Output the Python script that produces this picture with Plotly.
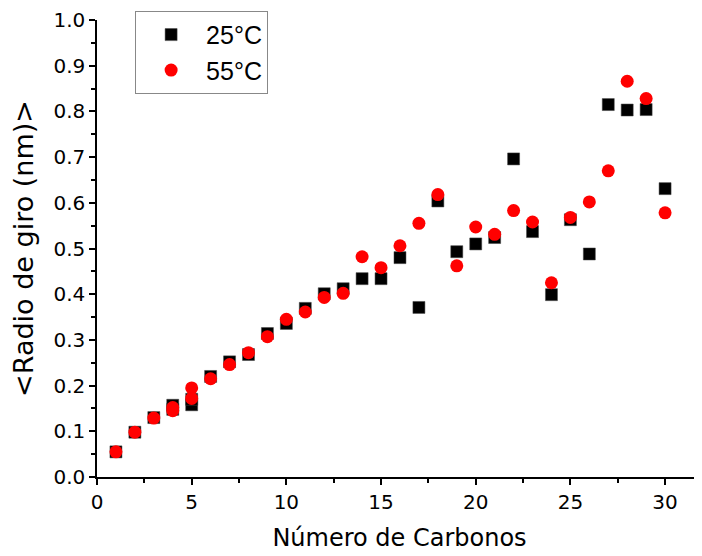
import plotly.graph_objects as go

carbons_25 = [1, 2, 3, 4, 4, 5, 5, 6, 7, 8, 9, 10, 11, 12, 13, 14, 15, 16, 17, 18, 19, 20, 21, 22, 23, 24, 25, 26, 27, 28, 29, 30]
radius_25 = [0.055, 0.098, 0.130, 0.157, 0.148, 0.158, 0.170, 0.220, 0.252, 0.268, 0.314, 0.336, 0.369, 0.401, 0.412, 0.434, 0.434, 0.480, 0.371, 0.604, 0.493, 0.510, 0.524, 0.696, 0.537, 0.399, 0.563, 0.488, 0.815, 0.803, 0.804, 0.631]

carbons_55 = [1, 2, 3, 4, 4, 5, 5, 6, 7, 8, 9, 10, 11, 12, 13, 14, 15, 16, 17, 18, 19, 20, 21, 22, 23, 24, 25, 26, 27, 28, 29, 30]
radius_55 = [0.055, 0.098, 0.129, 0.152, 0.145, 0.195, 0.172, 0.215, 0.246, 0.272, 0.307, 0.345, 0.361, 0.393, 0.402, 0.482, 0.458, 0.506, 0.555, 0.618, 0.462, 0.547, 0.531, 0.583, 0.558, 0.425, 0.568, 0.602, 0.670, 0.866, 0.828, 0.578]

x_ticks = [0, 5, 10, 15, 20, 25, 30]
y_ticks = [0.0, 0.1, 0.2, 0.3, 0.4, 0.5, 0.6, 0.7, 0.8, 0.9, 1.0]

fig = go.Figure()
fig.add_trace(go.Scatter(
    x=carbons_25, y=radius_25, mode="markers", name="25°C",
    marker=dict(symbol="square", size=12, color="#000000",
                line=dict(width=0.5, color="#444444")),
))
fig.add_trace(go.Scatter(
    x=carbons_55, y=radius_55, mode="markers", name="55°C",
    marker=dict(symbol="circle", size=13, color="#FF0000",
                line=dict(width=0)),
))

axis_font = dict(family="DejaVu Sans", size=20, color="#000000")

# page body has an 8px margin, so the figure is sized to fit the window
fig.update_layout(
    width=694, height=548,
    margin=dict(l=89, r=0, t=12, b=79),
    paper_bgcolor="white", plot_bgcolor="white",
    showlegend=True,
    legend=dict(
        x=0.063, y=1.02, xanchor="left", yanchor="top",
        bordercolor="#888888", borderwidth=1, bgcolor="white",
        font=dict(family="Liberation Sans", size=25, color="#000000"),
        itemwidth=60, tracegroupgap=0,
    ),
    xaxis=dict(
        automargin=False,
        range=[0, 31.95], tickvals=x_ticks, ticktext=[str(v) for v in x_ticks],
        showgrid=False, zeroline=False, showline=True, linecolor="#000000", linewidth=1.5,
        ticks="outside", ticklen=6, tickwidth=1.5, tickcolor="#000000",
        minor=dict(dtick=2.5, ticks="outside", ticklen=4, tickwidth=1.5, tickcolor="#000000", showgrid=False),
        tickfont=axis_font,
        title=dict(text="Número de Carbonos", font=dict(family="DejaVu Sans", size=24, color="#000000"), standoff=16),
    ),
    yaxis=dict(
        automargin=False,
        range=[0, 1.0], tickvals=y_ticks, ticktext=[f"{v:.1f}" for v in y_ticks],
        showgrid=False, zeroline=False, showline=True, linecolor="#000000", linewidth=1.5,
        ticks="outside", ticklen=6, tickwidth=1.5, tickcolor="#000000",
        minor=dict(dtick=0.05, ticks="outside", ticklen=4, tickwidth=1.5, tickcolor="#000000", showgrid=False),
        tickfont=axis_font,
        title=dict(text="&lt;Radio de giro (nm)&gt;", font=dict(family="DejaVu Sans", size=27, color="#000000"), standoff=13),
    ),
)

fig.write_html("out.html")
